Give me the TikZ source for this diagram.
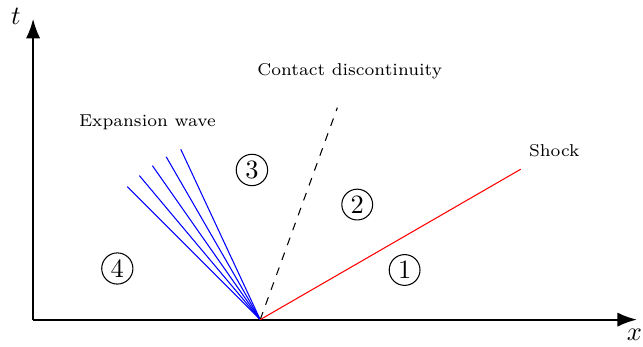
\documentclass[tikz,border=0pt]{standalone}
\usepackage{tikz}
\usetikzlibrary{arrows.meta,positioning,calc}

\begin{document}
\begin{tikzpicture}[
    axisline/.style={thick, -{Latex[length=2.6mm, width=1.9mm]}},
    wavelbl/.style={font=\fontsize{6.5}{8}\selectfont},
    regionlbl/.style={circle, draw, inner sep=1.2pt},
    fanline/.style={blue},
    shockline/.style={red},
    contactline/.style={dashed}
  ]
    \useasboundingbox (-0.44,-0.36) rectangle (8.11,4.25);

    % --- Axes ---
    \coordinate (orig) at (0,0);
    \coordinate (xend) at (8.03,0);
    \coordinate (tend) at (0,4);
    \draw[axisline] (orig) -- (xend) node[below, xshift=-1pt] (xlbl) {$x$};
    \draw[axisline] (orig) -- (tend) node[left, xshift=-1pt, yshift=1pt] (tlbl) {$t$};

    % --- Waves from the diaphragm ---
    \coordinate (diaph) at (3.02,0);
    \foreach \ang in {115,120,...,135}
      \draw[fanline] (diaph) -- ++(\ang:2.5);
    \coordinate (contactend) at ($(diaph)+(70:3)$);
    \coordinate (shockend) at ($(diaph)+(30:4)$);
    \draw[contactline] (diaph) -- (contactend);
    \draw[shockline] (diaph) -- (shockend);

    % --- Labels ---
    \node[wavelbl] (explbl) at (1.52,2.62) {Expansion wave};
    \node[wavelbl] (conlbl) at (4.21,3.30) {Contact discontinuity};
    \node[wavelbl] (shocklbl) at (6.93,2.25) {Shock};

    % --- Regions ---
    \node[regionlbl] (r1) at (4.94,0.66) {1};
    \node[regionlbl] (r2) at (4.31,1.53) {2};
    \node[regionlbl] (r3) at (2.91,1.99) {3};
    \node[regionlbl] (r4) at (1.12,0.68) {4};
  \end{tikzpicture}
\end{document}
